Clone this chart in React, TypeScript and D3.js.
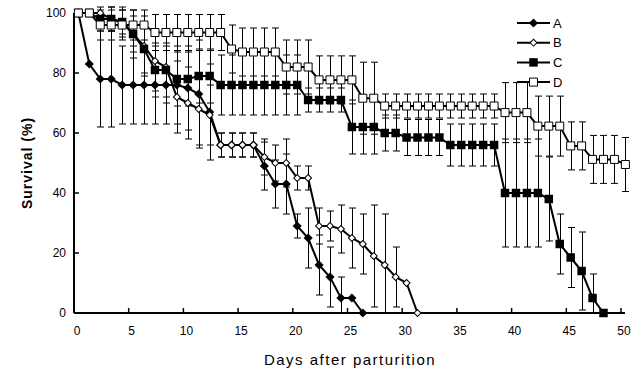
import React from 'react';
import * as d3 from 'd3';

// survival (%) per day, index = day after parturition
const seriesA = [100, 83, 78, 78, 76, 76, 76, 76, 76, 76, 75, 73, 67, 56, 56, 56, 56, 49, 43, 43, 29, 25, 16, 12, 5, 5, 0];
const errA = [0, 0, 16, 16, 13, 13, 13, 13, 13, 13, 14, 18, 16, 4, 4, 4, 4, 8, 8, 10, 4, 10, 10, 10, 7, 0, 0];

const seriesB = [100, 100, 100, 98, 97, 93, 89, 84, 82, 72, 70, 68, 66, 56, 56, 56, 56, 52, 50, 50, 45, 45, 29, 29, 28, 25, 23, 19, 16, 12, 10, 0];
const errB = [0, 0, 0, 4, 5, 8, 10, 10, 12, 12, 12, 12, 10, 4, 4, 4, 4, 6, 6, 8, 4, 4, 6, 5, 8, 10, 10, 17, 17, 10, 0, 0];

const seriesC = [100, 100, 98, 98, 97, 93, 88, 81, 81, 78, 78, 79, 79, 76, 76, 76, 76, 76, 76, 76, 76, 71, 71, 71, 71, 62, 62, 62, 60, 60, 58.5, 58.5, 58.5, 58.5, 56, 56, 56, 56, 56, 40, 40, 40, 40, 38, 23, 18.5, 14, 5, 0];
const errC = [0, 0, 4, 4, 4, 6, 8, 9, 9, 9, 9, 9, 9, 10, 10, 10, 10, 10, 10, 10, 10, 4, 4, 4, 4, 9, 9, 9, 6, 6, 6, 6, 6, 6, 7, 7, 7, 7, 7, 18, 18, 18, 18, 14, 10, 10, 13, 8, 0];

const seriesD = [100, 100, 96, 96, 96, 96, 96, 93.5, 93.5, 93.5, 93.5, 93.5, 93.5, 93.5, 88, 87, 87, 87, 87, 82, 82, 82, 77.7, 77.7, 77.7, 77.7, 71.6, 71.6, 69, 69, 69, 69, 69, 69, 69, 69, 69, 69, 69, 66.8, 66.8, 66.8, 62.3, 62.3, 62.3, 55.7, 55.7, 51.2, 51.2, 51.2, 49.5];
const errD = [0, 0, 5, 5, 5, 5, 5, 6, 6, 6, 6, 6, 6, 6, 8, 8, 8, 8, 8, 9, 9, 9, 8, 8, 8, 8, 12, 12, 4, 4, 4, 4, 4, 4, 4, 4, 4, 4, 4, 10, 10, 10, 10, 10, 10, 8, 8, 8, 8, 8, 9];

const seriesNames = ['A', 'B', 'C', 'D'];
const xTicks = [0, 5, 10, 15, 20, 25, 30, 35, 40, 45, 50];
const yTicks = [0, 20, 40, 60, 80, 100];

const font = 'Arial, "Liberation Sans", sans-serif';

const Marker = ({ type, cx, cy }) => {
  if (type === 'A') {
    return <path d={d3.symbol(d3.symbolSquare, 42)()} transform={`translate(${cx},${cy}) rotate(45)`} fill="#000" />;
  }
  if (type === 'B') {
    return <path d={d3.symbol(d3.symbolSquare, 24)()} transform={`translate(${cx},${cy}) rotate(45)`} fill="#fff" stroke="#000" strokeWidth={1} />;
  }
  if (type === 'C') {
    return <path d={d3.symbol(d3.symbolSquare, 72)()} transform={`translate(${cx},${cy})`} fill="#000" />;
  }
  return <path d={d3.symbol(d3.symbolSquare, 64)()} transform={`translate(${cx},${cy})`} fill="#fff" stroke="#000" strokeWidth={1} />;
};

const App = () => {
  const width = 634;
  const height = 376;
  const margin = { top: 13, right: 13, bottom: 63, left: 74 };

  const x = d3.scaleLinear().domain([0, 50]).range([margin.left, width - margin.right]);
  // markers sit a little right of the day ticks, as in the source chart
  const xPt = d3.scaleLinear().domain([0, 50]).range([x(0.4), x(50.4)]);
  const y = d3.scaleLinear().domain([0, 100]).range([height - margin.bottom, margin.top]);

  const line = d3.line().x((d, i) => xPt(i)).y(d => y(d));

  const series = [
    { name: 'A', values: seriesA, err: errA },
    { name: 'B', values: seriesB, err: errB },
    { name: 'C', values: seriesC, err: errC },
    { name: 'D', values: seriesD, err: errD },
  ];

  const cap = 3.5;

  return (
    <svg width={width} height={height} style={{ position: 'absolute', left: 0, top: 0, background: '#fff' }}>
      {/* error bars */}
      <g stroke="#000" strokeWidth={1}>
        {series.map(s =>
          s.values.map((v, i) => {
            const e = s.err[i];
            if (!e) return null;
            const cx = Math.round(xPt(i)) + 0.5;
            const y1 = y(Math.min(v + e, 100 + e));
            const y2 = y(Math.max(v - e, 0));
            return (
              <g key={`${s.name}-e-${i}`}>
                <line x1={cx} x2={cx} y1={y1} y2={y2} />
                <line x1={cx - cap} x2={cx + cap} y1={y1} y2={y1} />
                <line x1={cx - cap} x2={cx + cap} y1={y2} y2={y2} />
              </g>
            );
          })
        )}
      </g>

      {/* axes */}
      <g stroke="#000" fill="none">
        <line x1={x(0)} x2={x(0)} y1={y(100)} y2={y(0)} strokeWidth={2} />
        <line x1={x(0)} x2={x(50) + 4} y1={y(0)} y2={y(0)} strokeWidth={2} />
        {yTicks.map(t => (
          <line key={`yt${t}`} x1={x(0)} x2={x(0) + 5} y1={y(t)} y2={y(t)} strokeWidth={1.5} />
        ))}
        {xTicks.map(t => (
          <line key={`xt${t}`} x1={x(t)} x2={x(t)} y1={y(0)} y2={y(0) - 5} strokeWidth={1.5} />
        ))}
      </g>
      <g fontFamily={font} fontSize={12} fill="#000">
        {yTicks.map(t => (
          <text key={`yl${t}`} x={x(0) - 8} y={y(t)} dy="0.35em" textAnchor="end">{t}</text>
        ))}
        {xTicks.map(t => (
          <text key={`xl${t}`} x={x(t) + 3} y={y(0) + 22} textAnchor="middle">{t}</text>
        ))}
      </g>

      {/* lines and markers */}
      {series.map(s => (
        <g key={s.name}>
          <path d={line(s.values)} fill="none" stroke="#000" strokeWidth={2} />
          {s.values.map((v, i) => (
            <Marker key={i} type={s.name} cx={xPt(i)} cy={y(v)} />
          ))}
        </g>
      ))}

      {/* legend */}
      {seriesNames.map((n, i) => {
        const ly = 23 + i * 19.7;
        return (
          <g key={`lg${n}`}>
            <line x1={517} x2={550} y1={ly} y2={ly} stroke="#000" strokeWidth={2} />
            <Marker type={n} cx={533.5} cy={ly} />
            <text x={553} y={ly} dy="0.36em" fontFamily={font} fontSize={13}>{n}</text>
          </g>
        );
      })}

      {/* axis titles */}
      <text
        transform={`translate(32,${(y(0) + y(100)) / 2}) rotate(-90)`}
        textAnchor="middle"
        fontFamily={font}
        fontSize={14}
        fontWeight="bold"
        letterSpacing={1}
      >
        Survival (%)
      </text>
      <text x={350} y={365} textAnchor="middle" fontFamily={font} fontSize={15} letterSpacing={1.5}>
        Days after parturition
      </text>
    </svg>
  );
};

export default App;
